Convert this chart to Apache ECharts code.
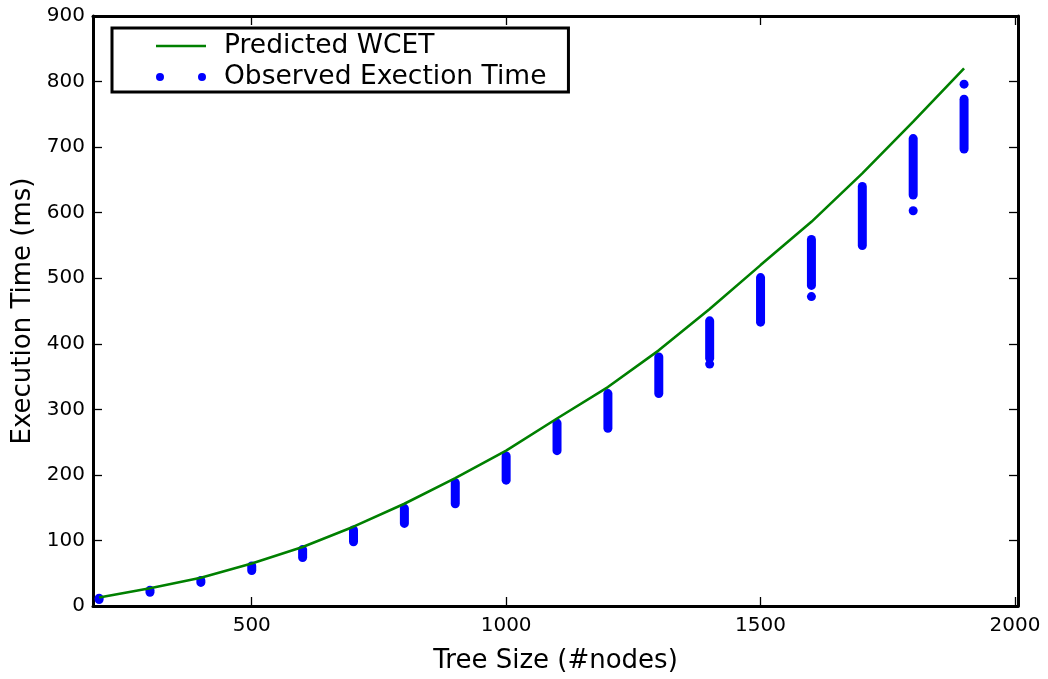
<!DOCTYPE html>
<html>
<head>
<meta charset="utf-8">
<script src="https://cdn.jsdelivr.net/npm/echarts@6/dist/echarts.min.js"></script>
<style>html,body{margin:0;padding:0;background:#fff;}#c{width:1048px;height:679px;}</style>
</head>
<body>
<div id="c"></div>
<script>
// Tree sizes (#nodes)
var treeSizes = [200, 300, 400, 500, 600, 700, 800, 900, 1000, 1100, 1200, 1300, 1400, 1500, 1600, 1700, 1800, 1900];
// Predicted WCET (ms)
var predictedWCET = [13, 27, 43, 65, 90, 121, 156, 195, 237, 286, 334, 390, 453, 520, 586, 660, 739, 820];
// Observed execution time: min / max of the dense run clusters (ms)
var observedMin = [10, 21, 36, 54, 74, 98, 126, 156, 192, 237, 271, 324, 378, 433, 489, 550, 627, 697];
var observedMax = [12, 24, 39, 61, 86, 116, 149, 188, 229, 279, 324, 380, 435, 501, 559, 640, 713, 773];
// Isolated observed points (tree size, ms)
var outlierX = [1400, 1600, 1800, 1900];
var outlierY = [369, 472, 603, 796];
// Tick labels
var xTicks = [500, 1000, 1500, 2000];

var FONT = 'DejaVu Sans';
var BLUE = '#0000ff';
var GREEN = '#008000';
var R = 4.5;

var lineData = treeSizes.map(function (x, i) { return [x, predictedWCET[i]]; });
var rangeData = treeSizes.map(function (x, i) { return [x, observedMin[i], observedMax[i]]; });
var outlierData = outlierX.map(function (x, i) { return [x, outlierY[i]]; });

var chart = echarts.init(document.getElementById('c'), null, {renderer: 'canvas'});

var axisLine = {show: true, onZero: false, lineStyle: {color: '#000', width: 3}};
var tickStyle = {color: '#000', width: 1.3};
function plain(v) { return String(v); }

chart.setOption({
  animation: false,
  backgroundColor: '#fff',
  grid: {left: 93, right: 30, top: 16, bottom: 72, containLabel: false},
  legend: {
    left: 112, top: 28,
    orient: 'vertical',
    itemWidth: 50, itemHeight: 8, itemGap: 1,
    padding: [3, 22, 0, 44],
    borderColor: '#000', borderWidth: 3, borderRadius: 0,
    backgroundColor: '#fff',
    selectedMode: false,
    textStyle: {fontFamily: FONT, fontSize: 26.5, color: '#000', lineHeight: 30, padding: [0, 0, 0, 13]},
    data: [
      {name: 'Predicted WCET', icon: 'path://M0,0L50,0L50,2.6L0,2.6Z', itemStyle: {color: GREEN}},
      {name: 'Observed Exection Time', icon: 'path://M0,4a4,4 0 1,0 8,0a4,4 0 1,0 -8,0ZM42,4a4,4 0 1,0 8,0a4,4 0 1,0 -8,0Z', itemStyle: {color: BLUE}}
    ]
  },
  xAxis: [{
    type: 'value', min: 188, max: 2006, position: 'bottom',
    name: 'Tree Size (#nodes)', nameLocation: 'middle', nameGap: 42,
    nameTextStyle: {fontFamily: FONT, fontSize: 26, color: '#000'},
    axisLine: axisLine,
    axisTick: {show: true, inside: true, length: 9, lineStyle: tickStyle, customValues: xTicks},
    axisLabel: {show: true, customValues: xTicks, formatter: plain, fontFamily: FONT, fontSize: 20, color: '#000', margin: 10},
    splitLine: {show: false}
  }, {
    type: 'value', min: 188, max: 2006, position: 'top',
    axisLine: axisLine,
    axisTick: {show: true, inside: true, length: 9, lineStyle: tickStyle, customValues: xTicks},
    axisLabel: {show: false},
    splitLine: {show: false}
  }],
  yAxis: [{
    type: 'value', min: 0, max: 900, interval: 100, position: 'left',
    name: 'Execution Time (ms)', nameLocation: 'middle', nameGap: 51,
    nameTextStyle: {fontFamily: FONT, fontSize: 26, color: '#000'},
    axisLine: axisLine,
    axisTick: {show: true, inside: true, length: 9, lineStyle: tickStyle},
    axisLabel: {fontFamily: FONT, fontSize: 20, color: '#000', margin: 8, formatter: plain},
    splitLine: {show: false}
  }, {
    type: 'value', min: 0, max: 900, interval: 100, position: 'right',
    axisLine: axisLine,
    axisTick: {show: true, inside: true, length: 9, lineStyle: tickStyle},
    axisLabel: {show: false},
    splitLine: {show: false}
  }],
  series: [{
    name: 'Predicted WCET', type: 'line', data: lineData,
    xAxisIndex: 0, yAxisIndex: 0,
    showSymbol: false, symbol: 'none', z: 3,
    lineStyle: {color: GREEN, width: 2.6}, itemStyle: {color: GREEN}
  }, {
    name: 'Observed Exection Time', type: 'custom', data: rangeData,
    xAxisIndex: 0, yAxisIndex: 0, z: 2,
    encode: {x: 0, y: [1, 2]},
    itemStyle: {color: BLUE},
    renderItem: function (params, api) {
      var top = api.coord([api.value(0), api.value(2)]);
      var bot = api.coord([api.value(0), api.value(1)]);
      return {
        type: 'rect',
        shape: {x: top[0] - R, y: top[1] - R, width: 2 * R, height: (bot[1] - top[1]) + 2 * R, r: R},
        style: {fill: BLUE}
      };
    }
  }, {
    name: 'Observed Exection Time', type: 'scatter', data: outlierData,
    xAxisIndex: 0, yAxisIndex: 0, z: 2,
    symbol: 'circle', symbolSize: 2 * R, itemStyle: {color: BLUE, opacity: 1}
  }]
});
</script>
</body>
</html>
